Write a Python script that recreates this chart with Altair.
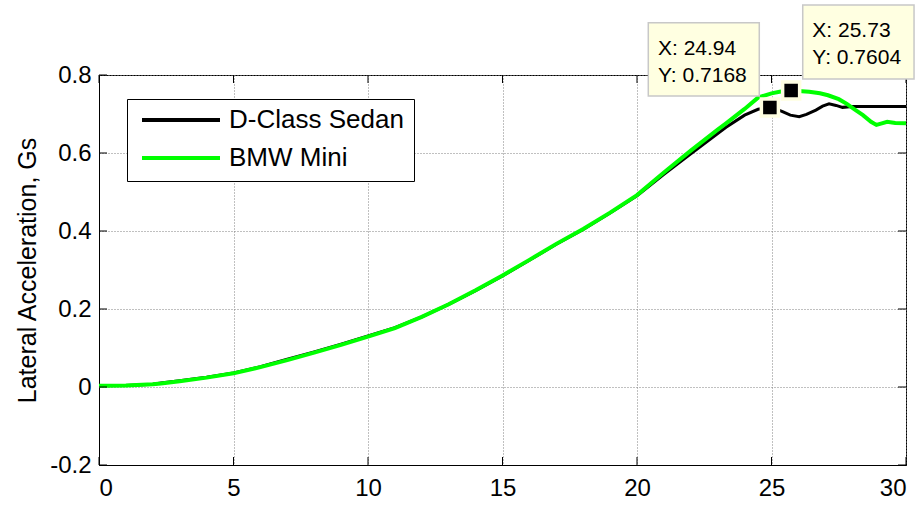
import altair as alt
import pandas as pd

# Lateral acceleration traces (time in s, acceleration in g)
sedan_x = [0, 1, 2, 2.3, 3, 4, 5, 6, 7, 8, 9, 10, 11, 12, 13, 14, 15, 16, 17, 18,
           19, 20, 21, 22, 23, 23.31, 24, 24.5, 24.94, 25.2, 25.41, 25.7, 26.03,
           26.3, 26.65, 26.9, 27.14, 27.4, 27.64, 28, 29, 30]
sedan_y = [0.003, 0.004, 0.007, 0.010, 0.016, 0.025, 0.036, 0.052, 0.071, 0.090,
           0.110, 0.131, 0.152, 0.180, 0.212, 0.247, 0.285, 0.325, 0.366, 0.404,
           0.446, 0.490, 0.545, 0.598, 0.650, 0.666, 0.697, 0.712, 0.7168, 0.712,
           0.706, 0.697, 0.693, 0.699, 0.710, 0.720, 0.726, 0.722, 0.717, 0.719,
           0.719, 0.719]

mini_x = [0, 1, 2, 2.3, 3, 4, 5, 6, 7, 8, 9, 10, 11, 12, 13, 14, 15, 16, 17, 18,
          19, 20, 21, 22, 23, 23.31, 24, 24.5, 25, 25.3, 25.73, 26, 26.4, 26.8,
          27.1, 27.5, 27.8, 28.1, 28.4, 28.7, 28.9, 29.1, 29.3, 29.6, 30]
mini_y = [0.003, 0.004, 0.007, 0.009, 0.015, 0.024, 0.035, 0.051, 0.069, 0.088,
          0.108, 0.129, 0.151, 0.180, 0.212, 0.248, 0.286, 0.326, 0.367, 0.405,
          0.447, 0.492, 0.550, 0.606, 0.660, 0.676, 0.713, 0.742, 0.753, 0.757,
          0.7604, 0.759, 0.757, 0.753, 0.748, 0.738, 0.726, 0.711, 0.697, 0.680,
          0.672, 0.676, 0.680, 0.677, 0.676]

series_names = ["D-Class Sedan", "BMW Mini"]
series_colors = ["#000000", "#00ff00"]

# Data tips
tip_x = [24.94, 25.73]
tip_y = [0.7168, 0.7604]

x_ticks = [0, 5, 10, 15, 20, 25, 30]
y_ticks = [-0.2, 0, 0.2, 0.4, 0.6, 0.8]

FONT = "Liberation Sans"

sedan = pd.DataFrame({"t": sedan_x, "a": sedan_y, "series": series_names[0]})
mini = pd.DataFrame({"t": mini_x, "a": mini_y, "series": series_names[1]})
tips = pd.DataFrame({
    "t": tip_x,
    "a": tip_y,
    "tx": [f"X: {v}" for v in tip_x],
    "ty": [f"Y: {v}" for v in tip_y],
    "idx": [0, 1],
})
xt = pd.DataFrame({"v": x_ticks})
yt = pd.DataFrame({"v": y_ticks})

xs = alt.Scale(domain=[0, 30], nice=False, zero=False)
ys = alt.Scale(domain=[-0.2, 0.8], nice=False, zero=False)

x_axis = alt.Axis(
    values=x_ticks, title=None, grid=True, ticks=False, tickSize=0,
    labelExpr="toString(datum.value)", labelFont=FONT, labelFontSize=24,
    labelColor="#000000", labelBaseline="alphabetic", labelPadding=30,
    domainColor="#000000", domainWidth=1,
    gridColor="#808080", gridDash=[1, 2], gridWidth=1,
)
y_axis = alt.Axis(
    values=y_ticks, title="Lateral Acceleration, Gs", grid=True, ticks=False,
    tickSize=0, labelExpr="toString(datum.value)", labelFont=FONT,
    labelFontSize=24, labelColor="#000000", labelBaseline="middle",
    labelPadding=8, domainColor="#000000", domainWidth=1,
    gridColor="#808080", gridDash=[1, 2], gridWidth=1,
    titleFont=FONT, titleFontSize=25, titleFontWeight="normal",
    titleColor="#000000", titleAngle=270, titleX=-72, titleY=195,
    titleAlign="center", titleBaseline="middle",
)

legend = alt.Legend(
    title=None, orient="none", legendX=28, legendY=24,
    symbolType="stroke", symbolSize=6084, symbolStrokeWidth=4,
    clipHeight=22, labelLimit=0,
    labelFont=FONT, labelFontSize=26, labelColor="#000000", labelOffset=7,
    padding=10, symbolOffset=3, rowPadding=12,
    strokeColor="#000000", fillColor="#ffffff",
)
color = alt.Color("series:N", scale=alt.Scale(domain=series_names, range=series_colors),
                  legend=legend)

X = alt.X("t:Q", scale=xs, axis=x_axis)
Y = alt.Y("a:Q", scale=ys, axis=y_axis)

sedan_line = alt.Chart(sedan).mark_line(strokeWidth=3, clip=True).encode(x=X, y=Y, color=color)
mini_line = alt.Chart(mini).mark_line(strokeWidth=4, clip=True).encode(x=X, y=Y, color=color)

# inward tick marks on all four sides
tx = alt.X("v:Q", scale=xs)
ty = alt.Y("v:Q", scale=ys)
tick_style = dict(color="#000000", strokeWidth=1)
bottom_ticks = alt.Chart(xt).mark_rule(y2Offset=-8, **tick_style).encode(
    x=tx, y=alt.datum(-0.2, scale=ys), y2=alt.datum(-0.2))
top_ticks = alt.Chart(xt).mark_rule(y2Offset=8, **tick_style).encode(
    x=tx, y=alt.datum(0.8, scale=ys), y2=alt.datum(0.8))
left_ticks = alt.Chart(yt).mark_rule(x2Offset=8, **tick_style).encode(
    y=ty, x=alt.datum(0, scale=xs), x2=alt.datum(0))
right_ticks = alt.Chart(yt).mark_rule(x2Offset=-8, **tick_style).encode(
    y=ty, x=alt.datum(30, scale=xs), x2=alt.datum(30))

tX = alt.X("t:Q", scale=xs)
tY = alt.Y("a:Q", scale=ys)
markers = alt.Chart(tips).mark_point(
    shape="square", filled=True, size=290, color="#000000",
    stroke="#ffffe1", strokeWidth=3.5, opacity=1,
).encode(x=tX, y=tY)

box_style = dict(fill="#ffffe1", stroke="#c8c8c8", strokeWidth=1.5)
text_style = dict(font=FONT, fontSize=21, color="#000000", align="left",
                  baseline="alphabetic")

tip1 = tips[tips["idx"] == 0]
tip2 = tips[tips["idx"] == 1]

box1 = alt.Chart(tip1).mark_rect(
    xOffset=-121.6, x2Offset=-10.6, yOffset=-84.7, y2Offset=-11.4, **box_style
).encode(x=tX, x2="t:Q", y=tY, y2="a:Q")
box2 = alt.Chart(tip2).mark_rect(
    xOffset=11.6, x2Offset=122.9, yOffset=-85.4, y2Offset=-11.4, **box_style
).encode(x=tX, x2="t:Q", y=tY, y2="a:Q")

t1a = alt.Chart(tip1).mark_text(dx=-111.9, dy=-52.4, **text_style).encode(x=tX, y=tY, text="tx:N")
t1b = alt.Chart(tip1).mark_text(dx=-111.9, dy=-25.1, **text_style).encode(x=tX, y=tY, text="ty:N")
t2a = alt.Chart(tip2).mark_text(dx=21.2, dy=-53.7, **text_style).encode(x=tX, y=tY, text="tx:N")
t2b = alt.Chart(tip2).mark_text(dx=21.2, dy=-26.4, **text_style).encode(x=tX, y=tY, text="ty:N")

chart = alt.layer(
    sedan_line, mini_line,
    bottom_ticks, top_ticks, left_ticks, right_ticks,
    markers, box1, box2, t1a, t1b, t2a, t2b,
).properties(
    width=807, height=390,
    autosize=alt.AutoSizeParams(type="none"),
    padding={"left": 99, "top": 75, "right": 17, "bottom": 40},
    background="#ffffff",
).configure_view(
    stroke="#000000", strokeWidth=1,
)

chart.save("out.html", embed_options={"renderer": "svg", "actions": False})
